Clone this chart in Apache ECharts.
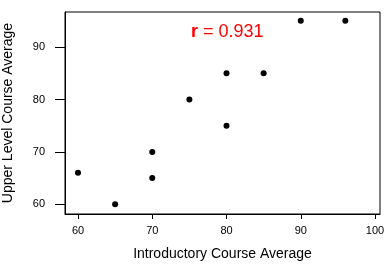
<!DOCTYPE html>
<html>
<head>
<meta charset="utf-8">
<script src="https://cdn.jsdelivr.net/npm/echarts@6/dist/echarts.min.js"></script>
<style>html,body{margin:0;padding:0;background:#fff}#c{width:388px;height:265px}</style>
</head>
<body>
<div id="c"></div>
<script>
var introAvg = [60, 65, 70, 70, 75, 80, 80, 85, 90, 96];
var upperAvg = [66, 60, 70, 65, 80, 85, 75, 85, 95, 95];
var xTicks = [60, 70, 80, 90, 100];
var yTicks = [60, 70, 80, 90];
var xTitle = 'Introductory Course Average';
var yTitle = 'Upper Level Course Average';
var rLabel = 'r';
var rValue = ' = 0.931';

var pts = introAvg.map(function (x, i) { return [x, upperAvg[i]]; });
var FONT = 'Liberation Sans, Arial, sans-serif';
var chart = echarts.init(document.getElementById('c'), null, {renderer: 'canvas'});
chart.setOption({
  animation: false,
  backgroundColor: '#fff',
  grid: {left: 65, right: 8, top: 12, bottom: 51, containLabel: false, outerBoundsMode: 'none',
         show: true, borderColor: '#000', borderWidth: 1, backgroundColor: 'transparent'},
  xAxis: {
    type: 'value', min: 58.25, max: 100.67,
    splitLine: {show: false},
    axisLine: {show: true, onZero: false, lineStyle: {color: '#000', width: 1}},
    axisTick: {show: true, length: 5, lineStyle: {color: '#000'}, customValues: xTicks},
    axisLabel: {color: '#000', fontSize: 11, fontFamily: FONT, margin: 11, customValues: xTicks},
    name: xTitle, nameLocation: 'middle', nameGap: 33,
    nameTextStyle: {color: '#000', fontSize: 14, fontFamily: FONT}
  },
  yAxis: {
    type: 'value', min: 58.15, max: 96.69,
    splitLine: {show: false},
    axisLine: {show: true, onZero: false, lineStyle: {color: '#000', width: 1}},
    axisTick: {show: true, length: 10, lineStyle: {color: '#000'}, customValues: yTicks},
    axisLabel: {color: '#000', fontSize: 11, fontFamily: FONT, margin: 20, customValues: yTicks},
    name: yTitle, nameLocation: 'middle', nameGap: 50, nameRotate: 90,
    nameTextStyle: {color: '#000', fontSize: 14, fontFamily: FONT}
  },
  graphic: [{
    type: 'text', left: 191, top: 23,
    style: {
      text: '{b|' + rLabel + '}{n|' + rValue + '}',
      rich: {
        b: {fontSize: 18, fontWeight: 'bold', fill: '#ff0000', fontFamily: FONT},
        n: {fontSize: 18, fill: '#ff0000', fontFamily: FONT}
      }
    }
  }],
  series: [{
    type: 'scatter', data: pts, symbol: 'circle', symbolSize: 6,
    itemStyle: {color: '#000', opacity: 1}
  }]
});
</script>
</body>
</html>
